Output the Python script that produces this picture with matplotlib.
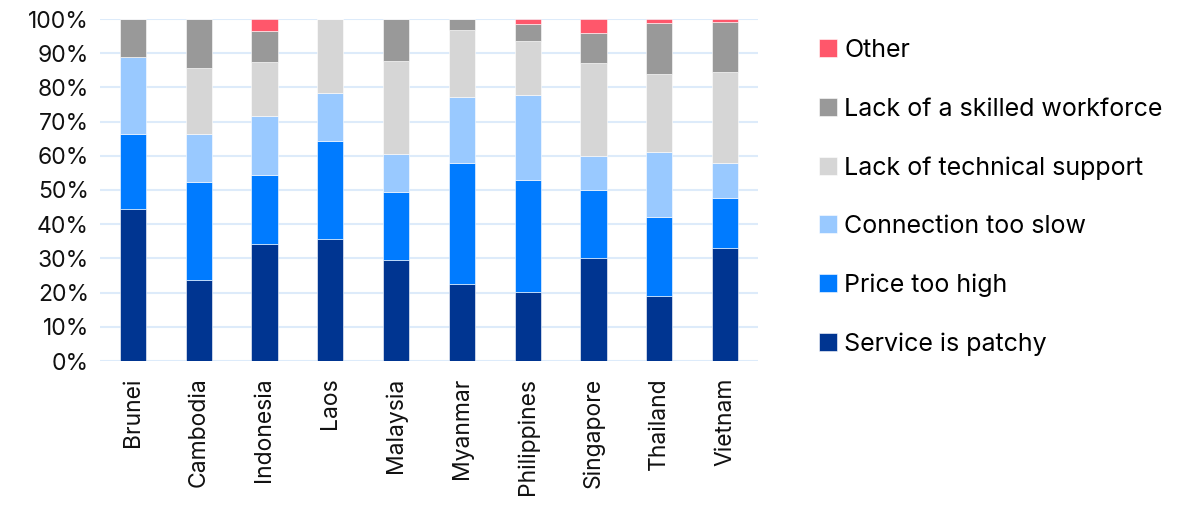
import numpy as np
import matplotlib.pyplot as plt
from matplotlib.ticker import PercentFormatter

plt.rcParams["font.family"] = ["Inter", "DejaVu Sans"]

countries = ["Brunei", "Cambodia", "Indonesia", "Laos", "Malaysia",
             "Myanmar", "Philippines", "Singapore", "Thailand", "Vietnam"]

service_patchy = [44.3, 23.8, 34.3, 35.6, 29.4, 22.5, 20.2, 30.0, 19.1, 33.1]
price_high     = [22.2, 28.4, 20.1, 28.6, 20.0, 35.4, 32.8, 20.0, 23.1, 14.5]
conn_slow      = [22.4, 14.3, 17.1, 14.2, 11.2, 19.4, 24.8, 10.0, 18.9, 10.3]
tech_support   = [0.0, 19.2, 15.8, 21.6, 27.1, 19.5, 15.8, 27.0, 22.8, 26.6]
skilled_work   = [11.1, 14.3, 9.1, 0.0, 12.3, 3.2, 4.8, 8.9, 14.8, 14.6]
other          = [0.0, 0.0, 3.6, 0.0, 0.0, 0.0, 1.6, 4.1, 1.3, 0.9]

series = [
    ("Service is patchy", service_patchy, "#003591"),
    ("Price too high", price_high, "#007BFF"),
    ("Connection too slow", conn_slow, "#99C9FF"),
    ("Lack of technical support", tech_support, "#D6D6D6"),
    ("Lack of a skilled workforce", skilled_work, "#999999"),
    ("Other", other, "#FF576B"),
]

fig = plt.figure(figsize=(11.8, 5.16), dpi=100)
ax = fig.add_axes([100 / 1180, 1 - 361 / 516, 658 / 1180, 342 / 516])

x = np.arange(len(countries))
bottom = np.zeros(len(countries))
handles = []
for name, vals, col in series:
    vals = np.array(vals)
    b = ax.bar(x, vals, 0.4, bottom=bottom, color=col, label=name,
               edgecolor="white", linewidth=0.4, zorder=3)
    handles.append(b)
    bottom += vals

ax.set_xlim(-0.5, len(countries) - 0.5)
ax.set_ylim(0, 100)
ax.set_yticks(np.arange(0, 101, 10))
ax.yaxis.set_major_formatter(PercentFormatter(decimals=0))
ax.grid(axis="y", color="#DDEBFA", linewidth=1.5, zorder=0)
ax.set_axisbelow(True)
for s in ax.spines.values():
    s.set_visible(False)
ax.set_xticks(x)
ax.set_xticklabels(countries, rotation=90)
ax.tick_params(axis="both", length=0, labelsize=16.5, colors="#111111")
ax.tick_params(axis="x", pad=12)
ax.tick_params(axis="y", pad=8)

leg = fig.legend(handles[::-1], [h.get_label() for h in handles[::-1]],
                 loc="upper left", bbox_to_anchor=(819 / 1180, 1 - 39 / 516),
                 frameon=False, fontsize=18, labelspacing=1.42,
                 handlelength=0.72, handleheight=0.72, handletextpad=0.3,
                 borderpad=0, borderaxespad=0)

fig.savefig("out.png", dpi=100)
